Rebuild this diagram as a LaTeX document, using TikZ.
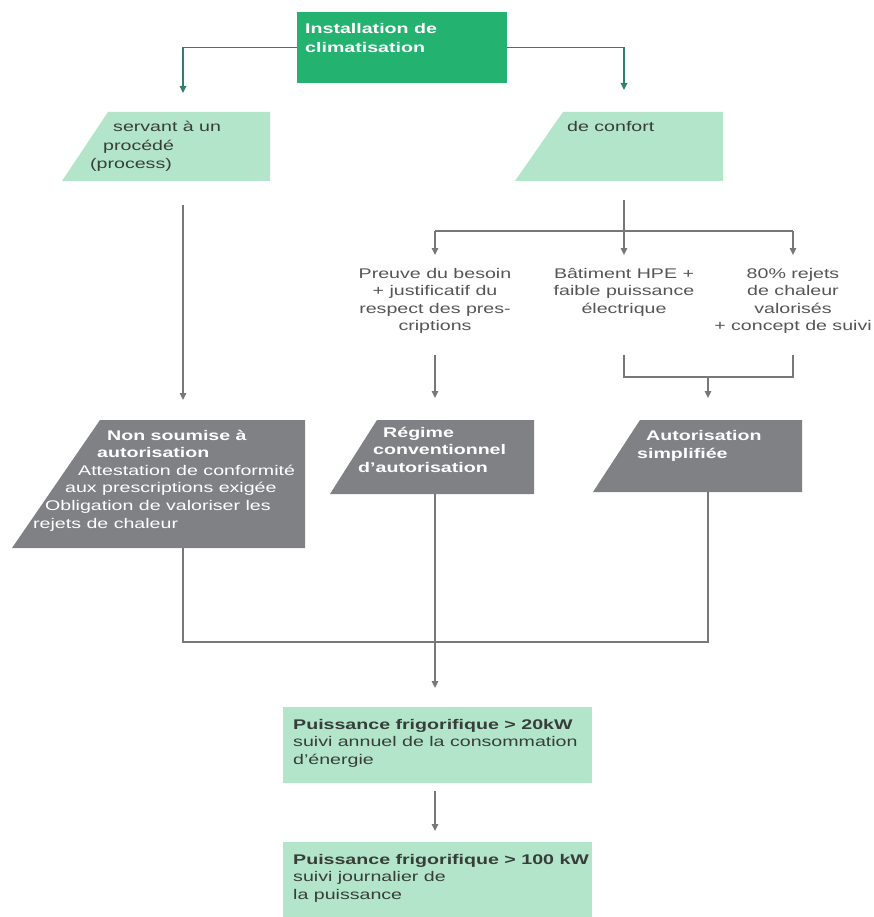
\documentclass[tikz,border=0pt]{standalone}
\usepackage{fontspec}
\setmainfont{Liberation Sans}[FakeStretch=1.4]
\usetikzlibrary{arrows.meta}
\definecolor{topgreen}{RGB}{35,178,112}
\definecolor{lightgreen}{RGB}{178,229,201}
\definecolor{boxgray}{RGB}{128,129,133}
\definecolor{tealline}{RGB}{48,128,108}
\definecolor{linegray}{RGB}{120,120,120}
\definecolor{darktext}{RGB}{55,62,58}
\definecolor{midtext}{RGB}{85,85,85}
\newcommand{\txtL}[1]{\begin{tabular}[t]{@{}l@{}}#1\end{tabular}}
\newcommand{\txtC}[1]{\begin{tabular}[t]{@{}c@{}}#1\end{tabular}}
\begin{document}
\begin{tikzpicture}[x=1pt,y=-1pt,
  txt/.style={inner sep=0pt, font=\fontsize{14}{17.5}\selectfont},
  txtb/.style={inner sep=0pt, font=\fontsize{14}{17.5}\selectfont\bfseries},
  tline/.style={draw=tealline, line width=1.6pt},
  gline/.style={draw=linegray, line width=1.3pt},
  arr/.style={-{Triangle[length=7pt,width=6.5pt]}},
  ]
\fill[white] (0,0) rectangle (873,917);
\useasboundingbox (0,0) rectangle (873,917);

% top box
\node[fill=topgreen, minimum width=210pt, minimum height=71pt, anchor=north west, inner sep=0pt] (inst) at (297,12) {};
\node[inner sep=0pt, anchor=base west, text=white, font=\fontsize{14}{19}\selectfont\bfseries] (instT) at (305,34) {\txtL{Installation de\\climatisation}};
\coordinate (procA) at (183,93);
\coordinate (confA) at (624,90);
\draw[tline, arr] (inst.west) -| (procA);
\draw[tline, arr] (inst.east) -| (confA);

% light green trapezoids
\fill[lightgreen] (108,112) -- (270,112) -- (270,181) -- (62,181) -- cycle;
\fill[lightgreen] (563,112) -- (723,112) -- (723,181) -- (515,181) -- cycle;
\node[txt, text=darktext, anchor=base west] (pr1) at (113,132) {servant à un};
\node[txt, text=darktext, anchor=base west] (pr2) at (103,150.5) {procédé};
\node[txt, text=darktext, anchor=base west] (pr3) at (90,169) {(process)};
\node[txt, text=darktext, anchor=base west] (conf) at (567,132) {de confort};

% process branch
\coordinate (procB) at (183,205);
\coordinate (procC) at (183,400);
\draw[gline, arr] (procB) -- (procC);

% confort split
\coordinate (confB) at (624,200);
\coordinate (split) at (624,231);
\coordinate (pA) at (435,255);
\coordinate (bA) at (624,255);
\coordinate (rA) at (793,255);
\draw[gline] (confB) -- (split);
\draw[gline] (pA |- split) -- (rA |- split);
\draw[gline, arr] (pA |- split) -- (pA);
\draw[gline, arr] (split) -- (bA);
\draw[gline, arr] (rA |- split) -- (rA);

\node[txt, text=midtext, anchor=base] (preuve) at (435,278) {\txtC{Preuve du besoin\\+ justificatif du\\respect des pres-\\criptions}};
\node[txt, text=midtext, anchor=base] (bat) at (624,278) {\txtC{Bâtiment HPE +\\faible puissance\\électrique}};
\node[txt, text=midtext, anchor=base] (rejets) at (793,278) {\txtC{80\% rejets\\de chaleur\\valorisés\\+ concept de suivi}};

\coordinate (pB) at (435,355);
\coordinate (pC) at (435,398);
\draw[gline, arr] (pB) -- (pC);
\coordinate (bB) at (624,355);
\coordinate (rB) at (793,355);
\coordinate (brk) at (708,377);
\coordinate (brkC) at (708,398);
\draw[gline] (bB) -- (bB |- brk) -- (rB |- brk) -- (rB);
\draw[gline, arr] (brk) -- (brkC);

% gray trapezoids
\fill[boxgray] (100,420) -- (305,420) -- (305,548) -- (12,548) -- cycle;
\fill[boxgray] (377,420) -- (534,420) -- (534,494) -- (330,494) -- cycle;
\fill[boxgray] (640,420) -- (802,420) -- (802,492) -- (593,492) -- cycle;

\node[txtb, text=white, anchor=base west] (ns1) at (107,440) {Non soumise à};
\node[txtb, text=white, anchor=base west] (ns2) at (97,457.6) {autorisation};
\node[txt, text=white, anchor=base west] (ns3) at (78,475.2) {Attestation de conformité};
\node[txt, text=white, anchor=base west] (ns4) at (65,492.8) {aux prescriptions exigée};
\node[txt, text=white, anchor=base west] (ns5) at (45,510.4) {Obligation de valoriser les};
\node[txt, text=white, anchor=base west] (ns6) at (33,528) {rejets de chaleur};

\node[txtb, text=white, anchor=base west] (rc1) at (383,437) {Régime};
\node[txtb, text=white, anchor=base west] (rc2) at (373,454) {conventionnel};
\node[txtb, text=white, anchor=base west] (rc3) at (358,472) {d'autorisation};

\node[txtb, text=white, anchor=base west] (as1) at (646,440) {Autorisation};
\node[txtb, text=white, anchor=base west] (as2) at (637,458) {simplifiée};

% merge
\coordinate (m1) at (183,548);
\coordinate (m2) at (435,494);
\coordinate (m3) at (708,492);
\coordinate (mj) at (435,642);
\coordinate (mC) at (435,688);
\draw[gline] (m1) -- (m1 |- mj) -- (m3 |- mj) -- (m3);
\draw[gline] (m2) -- (mj);
\draw[gline, arr] (mj) -- (mC);

% bottom boxes
\node[fill=lightgreen, minimum width=309pt, minimum height=76pt, anchor=north west, inner sep=0pt] (b1) at (283,707) {};
\node[fill=lightgreen, minimum width=309pt, minimum height=76pt, anchor=north west, inner sep=0pt] (b2) at (283,842) {};
\node[txt, text=darktext, anchor=base west] (b1T) at (293,729) {\txtL{\textbf{Puissance frigorifique > 20kW}\\suivi annuel de la consommation\\d'énergie}};
\node[txt, text=darktext, anchor=base west] (b2T) at (293,864) {\txtL{\textbf{Puissance frigorifique > 100 kW}\\suivi journalier de\\la puissance}};
\coordinate (bA1) at (435,791);
\coordinate (bA2) at (435,831);
\draw[gline, arr] (bA1) -- (bA2);
\end{tikzpicture}
\end{document}
